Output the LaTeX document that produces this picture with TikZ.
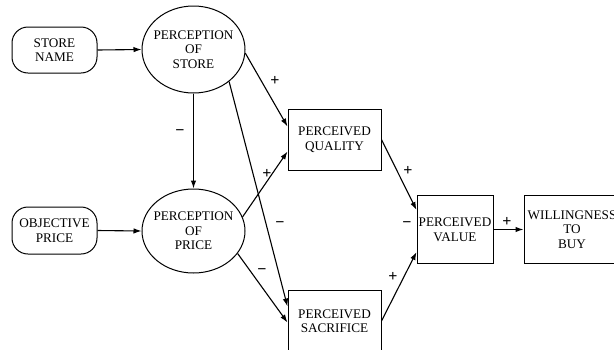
\documentclass[tikz,border=0pt]{standalone}
\usepackage{fontspec}
\setmainfont{Liberation Serif}
\usetikzlibrary{shapes.geometric,arrows.meta,calc}
\begin{document}
\begin{tikzpicture}[x=1pt,y=-1pt,
  txt/.style={font=\fontsize{13.2}{14.5}\selectfont, align=center},
  rbox/.style={draw, line width=1pt, rounded corners=16pt, txt, inner sep=0pt, minimum width=85pt},
  sbox/.style={draw, line width=1pt, txt, inner sep=0pt},
  ell/.style={draw, line width=1pt, ellipse, inner sep=0pt, minimum width=103pt},
  arr/.style={line width=1.1pt, -{Latex[length=8pt,width=5.5pt]}},
  sign/.style={font=\fontsize{16}{16}\selectfont\bfseries, inner sep=0pt}
]
\useasboundingbox (0,0) rectangle (614,349);
% nodes
\node[rbox, minimum height=46pt] (sn) at (54.5,50) {STORE\\NAME};
\node[ell, minimum height=87pt, label={[txt]center:PERCEPTION\\OF\\STORE}] (ps) at (193.5,49.5) {};
\node[rbox, minimum height=47pt] (op) at (54.5,230.5) {OBJECTIVE\\PRICE};
\node[ell, minimum height=84pt, label={[txt]center:PERCEPTION\\OF\\PRICE}] (pp) at (193.5,231) {};
\node[sbox, minimum width=93pt, minimum height=61pt] (pq) at (334.5,139.5) {PERCEIVED\\QUALITY};
\node[sbox, minimum width=93pt, minimum height=62pt] (psac) at (334.5,321) {PERCEIVED\\SACRIFICE};
\node[sbox, minimum width=76pt, minimum height=68pt] (pv) at (455,229.5) {PERCEIVED\\VALUE};
\node[sbox, minimum width=96pt, minimum height=68pt] (wtb) at (572,229.5) {WILLINGNESS\\TO\\BUY};
% connectors
\draw[arr] (sn.east) -- (ps.west);
\draw[arr] (op.east) -- (pp.west);
\draw[arr] (ps.south) -- (pp.north);
\draw[arr] (ps.-4) -- ($(pq.north west)+(0,18)$);
\draw[arr] (ps.-42) -- ($(psac.north west)+(0,17)$);
\draw[arr] (pp.16) -- ($(pq.north west)+(0,43)$);
\draw[arr] (pp.-27) -- ($(psac.north west)+(0,33)$);
\draw[arr] (pq.east) -- ($(pv.north west)+(0,15)$);
\draw[arr] (psac.east) -- ($(pv.north west)+(0,57)$);
\draw[arr] (pv.east) -- (wtb.west);
% signs
\node[sign] (s1) at (275,81) {+};
\node[sign] (s2) at (180,133) {−};
\node[sign] (s3) at (267,174) {+};
\node[sign] (s4) at (280,225) {−};
\node[sign] (s5) at (262,272) {−};
\node[sign] (s6) at (408,171) {+};
\node[sign] (s7) at (407,225) {−};
\node[sign] (s8) at (393,277) {+};
\node[sign] (s9) at (507,222) {+};
\end{tikzpicture}
\end{document}
